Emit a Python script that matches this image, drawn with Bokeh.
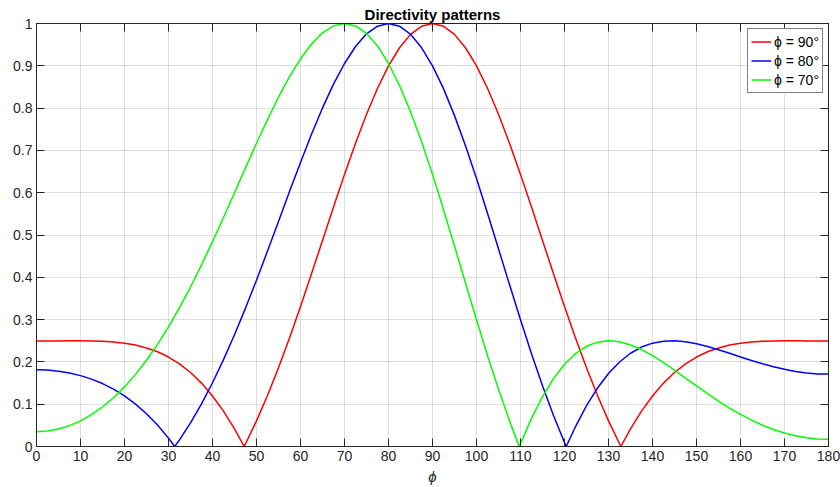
from bokeh.plotting import figure
from bokeh.models import LinearAxis, CustomJSTickFormatter, FixedTicker, Range1d
from bokeh.embed import file_html
from bokeh.resources import INLINE

# ---- data ----
phi_red = [0, 2.5, 5, 7.5, 10, 12.5, 15, 17.5, 20, 22.5, 25, 27.5, 30, 32.5, 35, 37.5, 40, 42.5, 45,
           47.2, 47.5, 50, 52.5, 55, 57.5, 60, 62.5, 65, 67.5, 70, 72.5, 75, 77.5, 80, 82.5, 85, 87.5, 90,
           92.5, 95, 97.5, 100, 102.5, 105, 107.5, 110, 112.5, 115, 117.5, 120, 122.5, 125, 127.5, 130,
           132.5, 132.8, 135, 137.5, 140, 142.5, 145, 147.5, 150, 152.5, 155, 157.5, 160, 162.5, 165,
           167.5, 170, 172.5, 175, 177.5, 180]
d_red = [0.2496, 0.2496, 0.2497, 0.2499, 0.2500, 0.2497, 0.2490, 0.2471, 0.2443, 0.2398, 0.2330, 0.2239,
         0.2115, 0.1954, 0.1750, 0.1499, 0.1195, 0.0836, 0.0417,
         0.0, 0.0064, 0.0605, 0.1206, 0.1861, 0.2566, 0.3310, 0.4082, 0.4872, 0.5660, 0.6433, 0.7169,
         0.7854, 0.8469, 0.8999, 0.9427, 0.9743, 0.9934, 1.0,
         0.9934, 0.9743, 0.9427, 0.8999, 0.8469, 0.7854, 0.7169, 0.6433, 0.5660, 0.4872, 0.4082, 0.3310,
         0.2566, 0.1861, 0.1206, 0.0605,
         0.0064, 0.0, 0.0417, 0.0836, 0.1195, 0.1499, 0.1750, 0.1954, 0.2115, 0.2239, 0.2330, 0.2398,
         0.2443, 0.2471, 0.2490, 0.2497, 0.2500, 0.2499, 0.2497, 0.2496, 0.2496]

phi_blue = [0, 2.5, 5, 7.5, 10, 12.5, 15, 17.5, 20, 22.5, 25, 27.5, 30, 31.4, 32.5, 35, 37.5, 40, 42.5,
            45, 47.5, 50, 52.5, 55, 57.5, 60, 62.5, 65, 67.5, 70, 72.5, 75, 77.5, 80, 82.5, 85, 87.5, 90,
            92.5, 95, 97.5, 100, 102.5, 105, 107.5, 110, 112.5, 115, 117.5, 120, 120.4, 122.5, 125, 127.5,
            130, 132.5, 135, 137.5, 140, 142.5, 145, 147.5, 150, 152.5, 155, 157.5, 160, 162.5, 165,
            167.5, 170, 172.5, 175, 177.5, 180]
d_blue = [0.1814, 0.1806, 0.1781, 0.1738, 0.1676, 0.1593, 0.1488, 0.1356, 0.1196, 0.1003, 0.0775, 0.0507,
          0.0198, 0.0, 0.0158, 0.0558, 0.1009, 0.1507, 0.2053,
          0.2641, 0.3272, 0.3932, 0.4621, 0.5320, 0.6026, 0.6716, 0.7381, 0.8004, 0.8567, 0.9054, 0.9457,
          0.9755, 0.9937, 1.0, 0.9937, 0.9746, 0.9431, 0.8999,
          0.8461, 0.7822, 0.7109, 0.6335, 0.5514, 0.4674, 0.3828, 0.2997, 0.2194, 0.1437, 0.0733, 0.0096,
          0.0, 0.0472, 0.0964, 0.1382,
          0.1725, 0.1997, 0.2204, 0.2351, 0.2443, 0.2490, 0.2499, 0.2476, 0.2428, 0.2365, 0.2287, 0.2203,
          0.2117, 0.2033, 0.1957, 0.1885, 0.1824, 0.1773, 0.1740, 0.1716, 0.1711]

phi_green = [0, 2.5, 5, 7.5, 10, 12.5, 15, 17.5, 20, 22.5, 25, 27.5, 30, 32.5, 35, 37.5, 40, 42.5, 45,
             47.5, 50, 52.5, 55, 57.5, 60, 62.5, 65, 67.5, 70, 72.5, 75, 77.5, 80, 82.5, 85, 87.5, 90,
             92.5, 95, 97.5, 100, 102.5, 105, 107.5, 109.7, 110, 112.5, 115, 117.5, 120, 122.5, 125, 127.5,
             130, 132.5, 135, 137.5, 140, 142.5, 145, 147.5, 150, 152.5, 155, 157.5, 160, 162.5, 165,
             167.5, 170, 172.5, 175, 177.5, 180]
d_green = [0.0349, 0.0365, 0.0413, 0.0493, 0.0605, 0.0752, 0.0934, 0.1153, 0.1409, 0.1705, 0.2040, 0.2415,
           0.2830, 0.3283, 0.3770, 0.4293, 0.4844, 0.5414, 0.5999,
           0.6587, 0.7168, 0.7729, 0.8257, 0.8742, 0.9166, 0.9517, 0.9780, 0.9944, 1.0, 0.9942, 0.9766,
           0.9469, 0.9054, 0.8535, 0.7916, 0.7208, 0.6433,
           0.5603, 0.4739, 0.3865, 0.2997, 0.2153, 0.1352, 0.0606, 0.0, 0.0068, 0.0666, 0.1179, 0.1605,
           0.1943, 0.2196, 0.2369, 0.2467,
           0.2500, 0.2475, 0.2401, 0.2290, 0.2147, 0.1981, 0.1804, 0.1618, 0.1431, 0.1249, 0.1073, 0.0908,
           0.0758, 0.0622, 0.0503, 0.0401, 0.0318, 0.0252, 0.0206, 0.0178, 0.0169]

x_ticks = list(range(0, 181, 10))
y_ticks = [0, 0.1, 0.2, 0.3, 0.4, 0.5, 0.6, 0.7, 0.8, 0.9, 1.0]
labels = ["\u03d5 = 90\u00b0", "\u03d5 = 80\u00b0", "\u03d5 = 70\u00b0"]
colors = ["#ff0000", "#0000ff", "#00ff00"]
title_text = "Directivity patterns"
x_label = "\u03d5"

AX = "#262626"
FONT = "Liberation Sans"

p = figure(width=840, height=487, x_range=Range1d(0, 180), y_range=Range1d(0, 1),
           output_backend="svg", toolbar_location=None, title=title_text,
           min_border_left=36, min_border_right=12, min_border_top=23, min_border_bottom=41)
p.background_fill_color = "white"
p.border_fill_color = "white"
p.outline_line_color = AX
p.outline_line_width = 1

p.title.text_font = FONT
p.title.text_font_size = "15px"
p.title.text_font_style = "bold"
p.title.text_color = "black"
p.title.align = "center"
p.title.standoff = 2

yfmt = CustomJSTickFormatter(code="return (Math.round(tick*10)/10).toString();")

for ax in [p.xaxis[0], p.yaxis[0]]:
    ax.axis_line_color = AX
    ax.major_tick_line_color = AX
    ax.major_tick_in = 8
    ax.major_tick_out = 0
    ax.minor_tick_line_color = None
    ax.major_label_text_font = FONT
    ax.major_label_text_font_size = "14px"
    ax.major_label_text_color = AX
    ax.major_label_standoff = 4
p.xaxis.ticker = FixedTicker(ticks=x_ticks)
p.yaxis.ticker = FixedTicker(ticks=y_ticks)
p.yaxis.formatter = yfmt
p.xaxis.axis_label = x_label
p.xaxis.axis_label_text_font = FONT
p.xaxis.axis_label_text_font_size = "15px"
p.xaxis.axis_label_text_font_style = "italic"
p.xaxis.axis_label_text_color = AX
p.xaxis.axis_label_standoff = 4

top = LinearAxis(ticker=FixedTicker(ticks=x_ticks), major_label_text_font_size="1px",
                 major_label_text_color=None, major_label_standoff=0,
                 major_tick_in=8, major_tick_out=0,
                 minor_tick_line_color=None, axis_line_color=AX, major_tick_line_color=AX)
right = LinearAxis(ticker=FixedTicker(ticks=y_ticks), major_label_text_font_size="1px",
                   major_label_text_color=None, major_label_standoff=0,
                   major_tick_in=8, major_tick_out=0,
                   minor_tick_line_color=None, axis_line_color=AX, major_tick_line_color=AX)
p.add_layout(top, "above")
p.add_layout(right, "right")

p.xgrid.ticker = FixedTicker(ticks=x_ticks)
p.ygrid.ticker = FixedTicker(ticks=y_ticks)
for g in [p.xgrid[0], p.ygrid[0]]:
    g.grid_line_color = AX
    g.grid_line_alpha = 0.15
    g.grid_line_width = 1

p.line(phi_red, d_red, line_color=colors[0], line_width=1.5, legend_label=labels[0])
p.line(phi_blue, d_blue, line_color=colors[1], line_width=1.5, legend_label=labels[1])
p.line(phi_green, d_green, line_color=colors[2], line_width=1.5, legend_label=labels[2])

lg = p.legend[0]
lg.location = "top_right"
lg.margin = 5
lg.padding = 3
lg.spacing = 0
lg.glyph_width = 20
lg.glyph_height = 19
lg.label_height = 19
lg.label_standoff = 3
lg.label_text_font = FONT
lg.label_text_font_size = "14px"
lg.label_text_color = "black"
lg.border_line_color = "black"
lg.border_line_width = 1
lg.background_fill_color = "white"
lg.background_fill_alpha = 1.0

open("out.html", "w").write(file_html(p, INLINE))
